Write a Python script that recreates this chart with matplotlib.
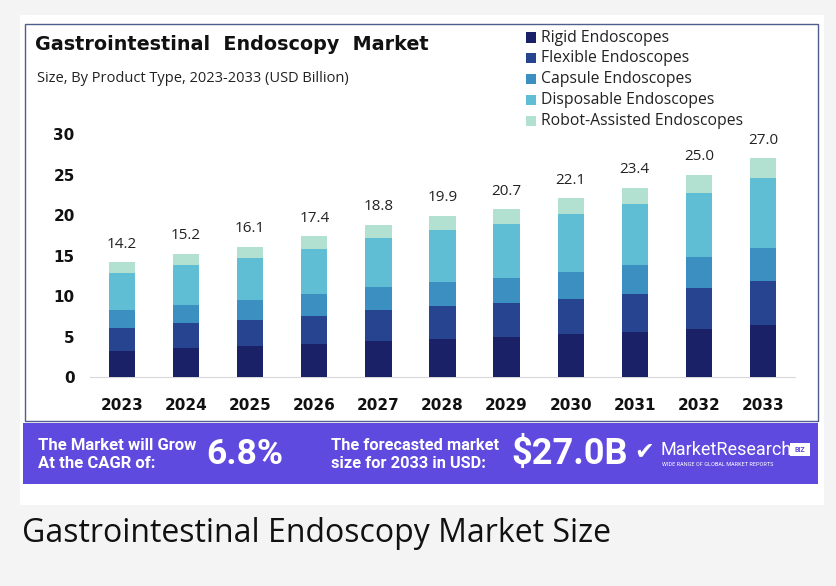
import numpy as np
import matplotlib.pyplot as plt
from matplotlib.patches import Rectangle

years = ['2023', '2024', '2025', '2026', '2027', '2028', '2029', '2030', '2031', '2032', '2033']
totals = [14.2, 15.2, 16.1, 17.4, 18.8, 19.9, 20.7, 22.1, 23.4, 25.0, 27.0]

segments = ['Rigid Endoscopes', 'Flexible Endoscopes', 'Capsule Endoscopes',
            'Disposable Endoscopes', 'Robot-Assisted Endoscopes']
rigid = [3.24, 3.55, 3.83, 4.10, 4.45, 4.73, 4.94, 5.25, 5.59, 5.95, 6.37]
flexible = [2.87, 3.13, 3.20, 3.44, 3.82, 4.02, 4.15, 4.43, 4.69, 5.00, 5.43]
capsule = [2.12, 2.25, 2.50, 2.69, 2.83, 2.95, 3.15, 3.31, 3.55, 3.81, 4.14]
disposable = [4.61, 4.94, 5.20, 5.59, 6.03, 6.43, 6.60, 7.12, 7.51, 8.02, 8.66]
robot = [1.36, 1.33, 1.37, 1.58, 1.67, 1.77, 1.86, 1.99, 2.06, 2.22, 2.40]

colors = ['#1a2167', '#26448f', '#3b8fc1', '#5fbdd4', '#b2e0d1']
purple = '#5f4ae0'

W, H = 836, 586
fig = plt.figure(figsize=(W / 100, H / 100), dpi=100)
fig.patch.set_facecolor('#f4f4f4')

def px(x, y):
    # pixel coords (top-left origin) -> figure fraction
    return x / W, 1 - y / H

def rect(x0, y0, x1, y1, **kw):
    fig.patches.append(Rectangle(px(x0, y1), (x1 - x0) / W, (y1 - y0) / H,
                                 transform=fig.transFigure, **kw))

# white card, bordered chart box, purple banner
rect(20, 15, 824, 505, facecolor='white', edgecolor='none', zorder=0)
rect(25, 24, 818, 421, facecolor='white', edgecolor='#4d5d8c', linewidth=1.0, zorder=0)
rect(23, 423, 818, 484, facecolor=purple, edgecolor='none', zorder=1)

# titles
fig.text(*px(35, 44), 'Gastrointestinal  Endoscopy  Market', fontsize=13.8,
         fontweight='bold', family='DejaVu Sans', va='center', color='#111111')
fig.text(*px(37, 79), 'Size, By Product Type, 2023-2033 (USD Billion)', fontsize=10.5,
         family='Open Sans', va='center', color='#222222')

# chart
ax = fig.add_axes([90 / W, 1 - 377 / H, (795 - 90) / W, (377 - 126) / H])
ax.set_zorder(5)
ax.set_facecolor('none')
x = np.arange(len(years))
data = [rigid, flexible, capsule, disposable, robot]
bottom = np.zeros(len(years))
for vals, c, name in zip(data, colors, segments):
    ax.bar(x, vals, width=0.41, bottom=bottom, color=c, label=name, zorder=3)
    bottom += np.array(vals)

for xi, t, b in zip(x, totals, bottom):
    ax.text(xi, b + 1.3, f'{t:.1f}', ha='center', va='bottom', fontsize=11,
            family='Open Sans', color='#222222')

ax.set_xlim(-0.5, 10.5)
ax.set_ylim(0, 31)
ax.set_yticks([0, 5, 10, 15, 20, 25, 30])
ax.set_xticks(x)
ax.set_xticklabels(years)
for s in ['top', 'right', 'left']:
    ax.spines[s].set_visible(False)
ax.spines['bottom'].set_color('#d8d8d8')
ax.tick_params(axis='both', length=0, labelsize=11)
ax.tick_params(axis='y', pad=11)
ax.tick_params(axis='x', pad=15)
for lab in ax.get_xticklabels() + ax.get_yticklabels():
    lab.set_fontweight('bold')
    lab.set_family('DejaVu Sans')
    lab.set_color('#111111')

# legend
for i, (name, c) in enumerate(zip(segments, colors)):
    yy = 37.5 + i * 20.8
    rect(526, yy - 5, 536, yy + 5, facecolor=c, edgecolor='none', zorder=2)
    fig.text(*px(541, yy), name, fontsize=11.3, family='Open Sans', va='center',
             color='#222222')

# banner texts
fig.text(*px(38, 446), 'The Market will Grow', fontsize=12, fontweight='bold',
         family='Roboto', color='white', va='center')
fig.text(*px(38, 464), 'At the CAGR of:', fontsize=12, fontweight='bold',
         family='Roboto', color='white', va='center')
fig.text(*px(206, 454), '6.8%', fontsize=25.5, fontweight='bold', family='Roboto',
         color='white', va='center')
fig.text(*px(331, 446), 'The forecasted market', fontsize=11.8, fontweight='bold',
         family='Roboto', color='white', va='center')
fig.text(*px(331, 464), 'size for 2033 in USD:', fontsize=11.8, fontweight='bold',
         family='Roboto', color='white', va='center')
fig.text(*px(511, 454), '$27.0B', fontsize=26, fontweight='bold', family='Roboto',
         color='white', va='center')
fig.text(*px(634, 452), '\u2714', fontsize=17, family='DejaVu Sans', color='white',
         va='center')
fig.text(*px(660, 450), 'MarketResearch', fontsize=13, family='Roboto',
         color='white', va='center')
rect(790, 443, 810, 456, facecolor='white', edgecolor='none', zorder=2)
fig.text(*px(800, 449.5), 'BIZ', fontsize=5, fontweight='bold', family='Roboto',
         color=purple, va='center', ha='center', zorder=3)
fig.text(*px(662, 465), 'WIDE RANGE OF GLOBAL MARKET REPORTS', fontsize=4,
         family='Roboto', color='white', va='center')

# caption
fig.text(*px(22, 533), 'Gastrointestinal Endoscopy Market Size', fontsize=23,
         family='Open Sans', va='center', color='#111111')

fig.savefig('out.png', dpi=100, facecolor=fig.get_facecolor())
